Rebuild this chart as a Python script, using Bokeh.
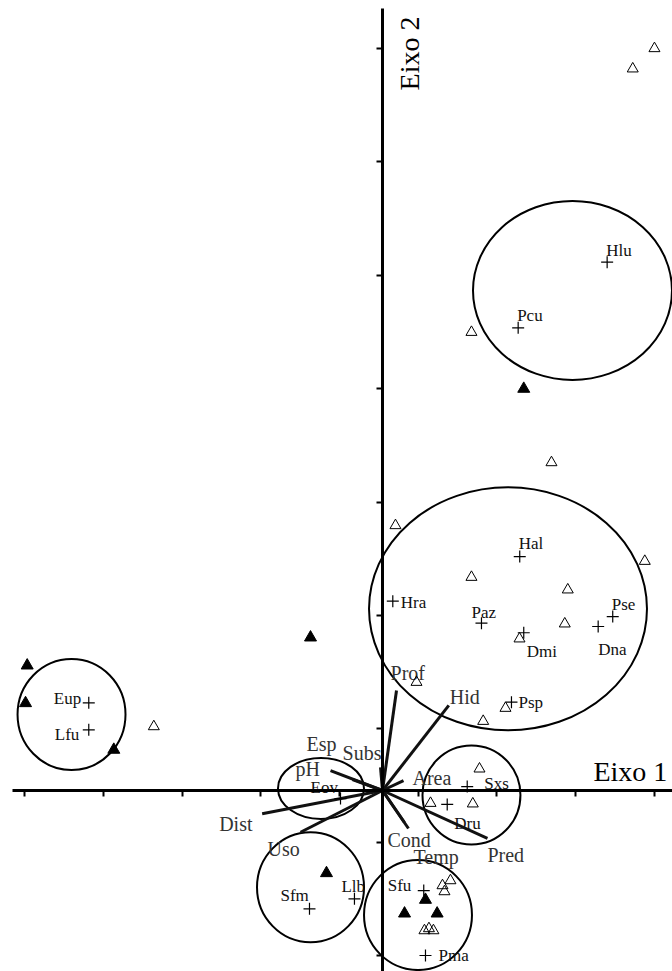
from bokeh.plotting import figure
from bokeh.models import Range1d, FixedTicker, ColumnDataSource
from bokeh.core.properties import value
from bokeh.embed import file_html
from bokeh.resources import INLINE

# ---------------- data ----------------
# species scores (+)
sp_names = ["Hlu", "Pcu", "Hal", "Hra", "Paz", "Dmi", "Pse", "Dna", "Psp",
            "Eup", "Lfu", "Sxs", "Dru", "Eov", "Sfm", "Llb", "Sfu", "Pma"]
sp_x = [2.853, 1.723, 1.743, 0.131, 1.257, 1.794, 2.924, 2.739, 1.638,
        -3.730, -3.730, 1.076, 0.822, -0.533, -0.927, -0.356, 0.524, 0.546]
sp_y = [4.659, 4.080, 2.063, 1.669, 1.475, 1.391, 1.534, 1.446, 0.779,
        0.773, 0.535, 0.035, -0.123, -0.071, -1.043, -0.955, -0.882, -1.455]

# sites (open triangles)
site_open_x = [3.454, 3.178, 1.130, 2.146, 0.165, 3.331, 1.130, 2.353, 2.315,
               1.740, 0.432, 1.562, 1.279, -2.904, 1.232, 0.610, 1.147,
               0.863, 0.762, 0.787, 0.533, 0.590, 0.647]
site_open_y = [6.543, 6.364, 4.041, 2.892, 2.337, 2.022, 1.881, 1.770, 1.470,
               1.338, 0.955, 0.726, 0.611, 0.564, 0.191, -0.112, -0.117,
               -0.794, -0.838, -0.891, -1.235, -1.217, -1.235]

# sites (filled triangles)
site_fill_x = [1.794, -0.914, -4.512, -4.533, -3.412, -0.711, 0.546, 0.280, 0.694]
site_fill_y = [3.542, 1.349, 1.102, 0.770, 0.359, -0.729, -0.964, -1.085, -1.085]

# environmental variables (vectors from origin)
env_names = ["Prof", "Hid", "Subs", "Esp", "pH", "Dist", "Uso", "Area", "Cond", "Temp", "Pred"]
env_x = [0.178, 0.842, -0.025, -0.381, -0.660, -1.528, -1.041, 0.267, 0.330, 0.279, 1.333]
env_y = [0.882, 0.750, 0.203, 0.097, 0.176, -0.205, -0.368, 0.088, -0.335, -0.282, -0.423]

# groups (circles)
grp_x = [2.413, 1.594, -3.949, -0.781, 1.130, -0.914, 0.451]
grp_y = [4.409, 1.602, 0.670, 0.018, -0.040, -0.853, -1.098]
grp_w = [2.527, 3.530, 1.371, 1.092, 1.244, 1.359, 1.371]
grp_h = [1.578, 2.143, 0.979, 0.538, 0.873, 0.970, 0.970]

# axis ticks
x_ticks = [-4.546, -3.546, -2.546, -1.546, -0.546, 0.454, 1.454, 2.454, 3.454]
y_ticks = [6.543, 5.543, 4.543, 3.543, 2.543, 1.543, 0.543, -0.457, -1.457]

axis_titles = ["Eixo 1", "Eixo 2"]

# ---------------- style (label offsets in screen px) ----------------
sp_dx = [-1, -1, -1, 8, -10, 3, -1, 0, 7, -35, -34, 17, 7, -30, -29, -13, -36, 13]
sp_dy = [-12, -12, -13, 1, -11, 19, -12, 23, 0, -4, 5, -3, 19, -11, -13, -12, -5, 0]
env_dx = [-6, 1, -38, -46, -35, -43, -33, 9, -21, 9, 0]
env_dy = [-17, -8, -14, -36, -2, 10, 17, -3, 12, 35, 17]

SERIF = value("Liberation Serif")

p = figure(width=672, height=971,
           x_range=Range1d(-4.851, 3.683), y_range=Range1d(-1.596, 6.966),
           output_backend="svg", toolbar_location=None, min_border=0,
           background_fill_color="white", border_fill_color="white")
p.outline_line_color = None
p.grid.visible = False

for ax, ticks, bounds in ((p.xaxis[0], x_ticks, (-4.70, 3.683)),
                          (p.yaxis[0], y_ticks, (-1.596, 6.896))):
    ax.fixed_location = 0
    ax.ticker = FixedTicker(ticks=ticks)
    ax.bounds = bounds
    ax.axis_line_width = 3
    ax.axis_line_color = "black"
    ax.major_tick_line_width = 2
    ax.major_tick_line_color = "black"
    ax.major_tick_in = 0
    ax.major_tick_out = 6
    ax.minor_tick_line_color = None
    ax.major_label_text_font_size = "0px"
    ax.major_label_text_color = None

# circles
p.ellipse(x=grp_x, y=grp_y, width=grp_w, height=grp_h,
          fill_color=None, line_color="black", line_width=2)

# environmental vectors
p.segment(x0=[0] * len(env_x), y0=[0] * len(env_y), x1=env_x, y1=env_y,
          line_color="#111111", line_width=3)
env_src = ColumnDataSource(dict(x=env_x, y=env_y, t=env_names, dx=env_dx, dy=env_dy))
p.text(x="x", y="y", text="t", x_offset="dx", y_offset="dy", source=env_src,
       text_font=SERIF, text_font_size="20px", text_color="#333333",
       text_align="left", text_baseline="alphabetic")

# sites
p.scatter(x=site_open_x, y=site_open_y, marker="triangle", size=11,
          fill_color=None, line_color="black", line_width=1)
p.scatter(x=site_fill_x, y=site_fill_y, marker="triangle", size=12,
          fill_color="black", line_color="black", line_width=1)

# species
p.scatter(x=sp_x, y=sp_y, marker="cross", size=12, line_color="black", line_width=1.2)
sp_src = ColumnDataSource(dict(x=sp_x, y=sp_y, t=sp_names, dx=sp_dx, dy=sp_dy))
p.text(x="x", y="y", text="t", x_offset="dx", y_offset="dy", source=sp_src,
       text_font=SERIF, text_font_size="17px", text_color="#111111",
       text_align="left", text_baseline="alphabetic")

# axis titles
p.text(x=[2.679], y=[0.168], text=[axis_titles[0]], text_font=SERIF,
       text_font_size="28px", text_color="black", text_align="left",
       text_baseline="alphabetic")
p.text(x=[0.345], y=[6.173], text=[axis_titles[1]], angle=1.5708, text_font=SERIF,
       text_font_size="28px", text_color="black", text_align="left",
       text_baseline="alphabetic")

open("out.html", "w").write(file_html(p, INLINE))
